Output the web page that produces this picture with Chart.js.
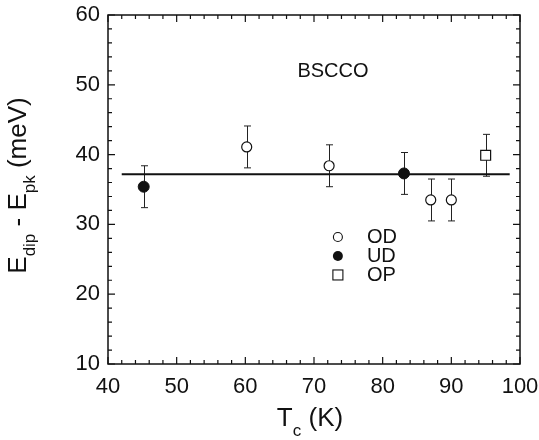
<!DOCTYPE html>
<html>
<head>
<meta charset="utf-8">
<script src="https://cdn.jsdelivr.net/npm/chart.js@4.4.0/dist/chart.umd.min.js"></script>
<style>
    html, body { margin: 0; padding: 0; background: #fff; }
    #wrap { width: 539px; height: 440px; }
</style>
</head>
<body>
<div id="wrap"><canvas id="chart" width="539" height="440"></canvas></div>
<script>
// Tc (K) vs dip-peak separation (meV), one set per doping class
const odTc = [60.2, 72.2, 87.0, 90.0];
const odGap = [41.1, 38.4, 33.5, 33.5];
const odErr = [3.0, 3.0, 3.0, 3.0];

const udTc = [45.2, 83.1];
const udGap = [35.4, 37.3];
const udErr = [3.0, 3.0];

const opTc = [95.0];
const opGap = [39.9];
const opErr = [3.0];

// constant fit through all samples
const fitTc = [42.0, 98.5];
const fitGap = [37.2, 37.2];

const xTicks = [40, 50, 60, 70, 80, 90, 100];
const yTicks = [10, 20, 30, 40, 50, 60];
const legendLabels = ['OD', 'UD', 'OP'];
const sampleLabel = 'BSCCO';

const FONT = "'Liberation Sans', Arial, Helvetica, sans-serif";
const INK = '#111';

Chart.defaults.font.family = FONT;
Chart.defaults.color = INK;

function toPoints(xs, ys) {
    return xs.map((x, i) => ({ x: x, y: ys[i] }));
}

/**
 * Draw text with subscript parts, centred on 0 along the baseline
 */
function drawRichText(ctx, parts, size, subSize, subShift) {
    let total = 0;
    parts.forEach(p => {
        ctx.font = (p.sub ? subSize : size) + 'px ' + FONT;
        p.w = ctx.measureText(p.t).width;
        total += p.w;
    });
    let x = -total / 2;
    ctx.textBaseline = 'alphabetic';
    ctx.textAlign = 'left';
    parts.forEach(p => {
        ctx.font = (p.sub ? subSize : size) + 'px ' + FONT;
        ctx.fillText(p.t, x, p.sub ? subShift : 0);
        x += p.w;
    });
}

const decorPlugin = {
    id: 'decor',

    // vertical error bars sit under the markers
    beforeDatasetsDraw(chart) {
        const ctx = chart.ctx;
        const yScale = chart.scales.y;
        ctx.save();
        ctx.strokeStyle = '#222';
        ctx.lineWidth = 1;
        chart.data.datasets.forEach((ds, i) => {
            if (!ds.errors) return;
            const meta = chart.getDatasetMeta(i);
            meta.data.forEach((pt, j) => {
                const v = ds.data[j].y;
                const top = yScale.getPixelForValue(v + ds.errors[j]);
                const bot = yScale.getPixelForValue(v - ds.errors[j]);
                const x = Math.round(pt.x) + 0.5;
                ctx.beginPath();
                ctx.moveTo(x, top);
                ctx.lineTo(x, bot);
                ctx.moveTo(x - 3.5, top);
                ctx.lineTo(x + 3.5, top);
                ctx.moveTo(x - 3.5, bot);
                ctx.lineTo(x + 3.5, bot);
                ctx.stroke();
            });
        });
        ctx.restore();
    },

    afterDraw(chart) {
        const ctx = chart.ctx;
        const area = chart.chartArea;
        const xs = chart.scales.x;
        const ys = chart.scales.y;
        ctx.save();

        // frame
        ctx.strokeStyle = INK;
        ctx.lineWidth = 1.5;
        ctx.strokeRect(area.left, area.top, area.right - area.left, area.bottom - area.top);

        // inward ticks on all four sides, minors every 2 units
        ctx.lineWidth = 1.2;
        ctx.beginPath();
        for (let v = xs.min; v <= xs.max + 1e-9; v += 2) {
            const len = v % 10 === 0 ? 7 : 4;
            const px = xs.getPixelForValue(v);
            ctx.moveTo(px, area.bottom);
            ctx.lineTo(px, area.bottom - len);
            ctx.moveTo(px, area.top);
            ctx.lineTo(px, area.top + len);
        }
        for (let v = ys.min; v <= ys.max + 1e-9; v += 2) {
            const len = v % 10 === 0 ? 7 : 4;
            const py = ys.getPixelForValue(v);
            ctx.moveTo(area.left, py);
            ctx.lineTo(area.left + len, py);
            ctx.moveTo(area.right, py);
            ctx.lineTo(area.right - len, py);
        }
        ctx.stroke();

        ctx.fillStyle = INK;

        // x axis title: Tc (K)
        ctx.save();
        ctx.translate((area.left + area.right) / 2 - 4, 426);
        drawRichText(ctx, [
            { t: 'T' }, { t: 'c', sub: true }, { t: ' (K)' }
        ], 26, 17, 10);
        ctx.restore();

        // y axis title: Edip - Epk (meV)
        ctx.save();
        ctx.translate(26, (area.top + area.bottom) / 2 - 4);
        ctx.rotate(-Math.PI / 2);
        drawRichText(ctx, [
            { t: 'E' }, { t: 'dip', sub: true }, { t: ' - ' },
            { t: 'E' }, { t: 'pk', sub: true }, { t: ' (meV)' }
        ], 26, 17, 9);
        ctx.restore();

        const w = area.right - area.left;
        const h = area.bottom - area.top;

        // sample name
        ctx.font = '20px ' + FONT;
        ctx.textAlign = 'center';
        ctx.textBaseline = 'middle';
        ctx.fillText(sampleLabel, area.left + w * 0.546, area.top + h * 0.163);

        // legend
        const lx = area.left + w * 0.558;
        const ly = area.top + h * 0.636;
        const step = 19;
        ctx.textAlign = 'left';
        legendLabels.forEach((label, i) => {
            const cy = ly + i * step;
            ctx.lineWidth = 1.1;
            ctx.strokeStyle = INK;
            ctx.beginPath();
            if (i === 0) {
                ctx.arc(lx, cy, 4.5, 0, Math.PI * 2);
                ctx.stroke();
            } else if (i === 1) {
                ctx.arc(lx, cy, 5, 0, Math.PI * 2);
                ctx.fill();
            } else {
                ctx.strokeRect(lx - 5, cy - 5, 10, 10);
            }
            ctx.fillText(label, lx + 29, cy + 1);
        });

        ctx.restore();
    }
};

const ctx = document.getElementById('chart');
const chart = new Chart(ctx, {
    type: 'scatter',
    data: {
        datasets: [
            {
                label: 'fit',
                type: 'line',
                data: toPoints(fitTc, fitGap),
                borderColor: INK,
                borderWidth: 2,
                pointRadius: 0,
                fill: false,
                order: 4
            },
            {
                label: legendLabels[0],
                data: toPoints(odTc, odGap),
                errors: odErr,
                pointStyle: 'circle',
                pointRadius: 5,
                backgroundColor: '#fff',
                borderColor: INK,
                borderWidth: 1.2,
                order: 1
            },
            {
                label: legendLabels[1],
                data: toPoints(udTc, udGap),
                errors: udErr,
                pointStyle: 'circle',
                pointRadius: 5.5,
                backgroundColor: INK,
                borderColor: INK,
                borderWidth: 1,
                order: 2
            },
            {
                label: legendLabels[2],
                data: toPoints(opTc, opGap),
                errors: opErr,
                pointStyle: 'rect',
                pointRadius: 7,
                backgroundColor: '#fff',
                borderColor: INK,
                borderWidth: 1.2,
                order: 3
            }
        ]
    },
    options: {
        responsive: false,
        animation: false,
        devicePixelRatio: 1,
        layout: {
            padding: { left: 0, top: 15, right: 19, bottom: 0 }
        },
        plugins: {
            legend: { display: false },
            tooltip: { enabled: false }
        },
        scales: {
            x: {
                type: 'linear',
                min: 40,
                max: 100,
                afterBuildTicks: scale => { scale.ticks = xTicks.map(v => ({ value: v })); },
                afterFit: scale => {
                    // fixed band under the plot; end labels may overhang
                    scale.height = 76;
                    scale.paddingLeft = 0;
                    scale.paddingRight = 0;
                },
                grid: { display: false, drawTicks: false },
                border: { display: false },
                ticks: {
                    font: { size: 22 },
                    color: INK,
                    padding: 10,
                    maxRotation: 0
                }
            },
            y: {
                type: 'linear',
                min: 10,
                max: 60,
                afterBuildTicks: scale => { scale.ticks = yTicks.map(v => ({ value: v })); },
                afterFit: scale => {
                    scale.width = 108;
                    scale.paddingTop = 0;
                    scale.paddingBottom = 0;
                },
                grid: { display: false, drawTicks: false },
                border: { display: false },
                ticks: {
                    font: { size: 22 },
                    color: INK,
                    padding: 8
                }
            }
        }
    },
    plugins: [decorPlugin]
});
</script>
</body>
</html>
